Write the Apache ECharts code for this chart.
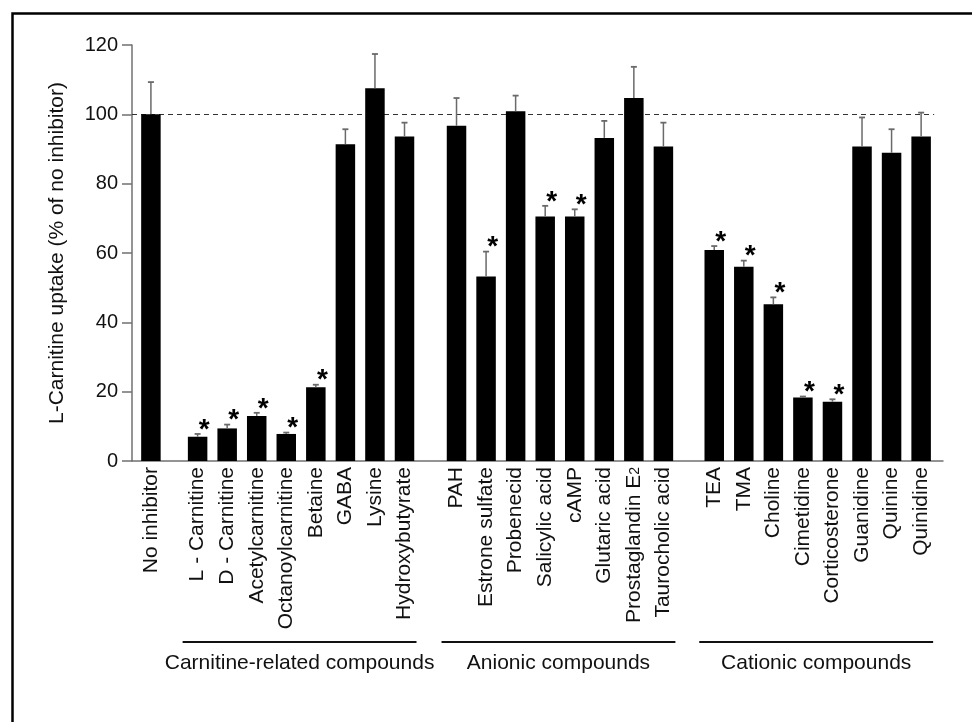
<!DOCTYPE html>
<html>
<head>
<meta charset="utf-8">
<script src="https://cdn.jsdelivr.net/npm/echarts@6/dist/echarts.min.js"></script>
<style>html,body{margin:0;padding:0;background:#fff;}#chart{width:972px;height:722px;}</style>
</head>
<body>
<div id="chart"></div>
<script>
const categories = ['No inhibitor','L - Carnitine','D - Carnitine','Acetylcarnitine','Octanoylcarnitine','Betaine','GABA','Lysine','Hydroxybutyrate','PAH','Estrone sulfate','Probenecid','Salicylic acid','cAMP','Glutaric acid','Prostaglandin E2','Taurocholic acid','TEA','TMA','Choline','Cimetidine','Corticosterone','Guanidine','Quinine','Quinidine'];
const groupOf = [0,1,1,1,1,1,1,1,1,2,2,2,2,2,2,2,2,3,3,3,3,3,3,3,3];
const groupNames = ['', 'Carnitine-related compounds', 'Anionic compounds', 'Cationic compounds'];
const uptake = [100,7.0,9.4,13.0,7.8,21.3,91.4,107.5,93.6,96.7,53.2,100.9,70.5,70.5,93.2,104.7,90.7,60.9,56.0,45.2,18.3,17.1,90.7,88.9,93.6];
const errorSE = [9.3,0.8,1.1,0.9,0.4,0.7,4.3,9.9,4.0,8.0,7.2,4.5,3.1,2.1,4.9,9.0,6.9,1.1,1.8,2.0,0.3,0.7,8.4,6.8,6.9];
const significant = [0,1,1,1,1,1,0,0,0,0,1,0,1,1,0,0,0,1,1,1,1,1,0,0,0];
const yMin = 0, yMax = 120, yStep = 20;
const referenceLevel = 100;

// layout: extra spacing between groups (in bar slots)
const gapExtra = {1: 0.58, 2: 0.76, 3: 0.72};
const pos = [];
let p = 0;
categories.forEach((c, i) => {
  if (i > 0) { p += 1; if (groupOf[i] !== groupOf[i-1]) p += gapExtra[groupOf[i]]; }
  pos.push(+p.toFixed(4));
});
const xMin = -0.64, xMax = 26.8;

const FONT = '"Liberation Sans", Arial, sans-serif';

const barData = categories.map((c, i) => [pos[i], uptake[i]]);
const errData = categories.map((c, i) => [pos[i], uptake[i], uptake[i] + errorSE[i], significant[i]]);
const groupData = [];
for (let g = 1; g < groupNames.length; g++) {
  const idx = groupOf.map((v, i) => v === g ? i : -1).filter(i => i >= 0);
  groupData.push({value: [pos[idx[0]], pos[idx[idx.length-1]]], name: groupNames[g]});
}

function labelFor(v) {
  for (let i = 0; i < pos.length; i++) {
    if (Math.abs(pos[i] - v) < 1e-6) {
      const n = categories[i];
      if (n === 'Prostaglandin E2') return 'Prostaglandin E{sub|2}';
      return n;
    }
  }
  return '';
}

const chart = echarts.init(document.getElementById('chart'), null, {renderer: 'canvas'});
chart.setOption({
  animation: false,
  backgroundColor: '#fff',
  graphic: [{
    type: 'rect', left: 10, top: 11, silent: true,
    shape: {x: 0, y: 0, width: 1000, height: 1000},
    style: {fill: 'none', stroke: '#000', lineWidth: 2.5}
  }],
  grid: {left: 132, right: 29, top: 45, bottom: 261, containLabel: false},
  xAxis: {
    type: 'value', min: xMin, max: xMax,
    splitLine: {show: false},
    axisLine: {show: true, onZero: false, lineStyle: {color: '#707070', width: 1.5}},
    axisTick: {show: false},
    axisLabel: {
      show: true, rotate: 90, margin: 6,
      customValues: pos,
      formatter: labelFor,
      fontFamily: FONT, fontSize: 21, color: '#111',
      rich: {sub: {fontSize: 14, fontFamily: FONT, color: '#111', padding: [0,0,-2,0]}}
    }
  },
  yAxis: {
    type: 'value', min: yMin, max: yMax, interval: yStep,
    name: 'L-Carnitine uptake (% of no inhibitor)',
    nameLocation: 'middle', nameGap: 64,
    nameTextStyle: {fontFamily: FONT, fontSize: 21, color: '#111'},
    splitLine: {show: false},
    axisLine: {show: true, onZero: false, lineStyle: {color: '#707070', width: 1.5}},
    axisTick: {show: true, inside: false, length: 10, lineStyle: {color: '#707070', width: 1.5}},
    axisLabel: {margin: 14, fontFamily: FONT, fontSize: 20, color: '#111'}
  },
  series: [
    {
      type: 'bar', data: barData, barWidth: 19.5, z: 3,
      itemStyle: {color: '#000'},
      markLine: {
        silent: true, symbol: ['none', 'none'], z: 1,
        label: {show: false},
        lineStyle: {color: '#333', width: 1.2, type: [5, 4]},
        data: [[{coord: [xMin, referenceLevel]}, {coord: [26.5, referenceLevel]}]]
      }
    },
    {
      type: 'custom', z: 4, data: errData,
      renderItem: function (params, api) {
        const x = api.value(0), m = api.value(1), t = api.value(2), s = api.value(3);
        const p0 = api.coord([x, m]);
        const p1 = api.coord([x, t]);
        const children = [
          {type: 'line', shape: {x1: p0[0], y1: p0[1], x2: p1[0], y2: p1[1]}, style: {stroke: '#6a6a6a', lineWidth: 1.5}},
          {type: 'line', shape: {x1: p1[0] - 3, y1: p1[1], x2: p1[0] + 3, y2: p1[1]}, style: {stroke: '#6a6a6a', lineWidth: 1.8}}
        ];
        if (s) {
          children.push({
            type: 'text',
            style: {text: '*', x: p1[0] + 6.5, y: p1[1] + 10, align: 'center', verticalAlign: 'bottom',
                    font: 'bold 28px ' + FONT, fill: '#000'}
          });
        }
        return {type: 'group', children: children};
      }
    },
    {
      type: 'custom', z: 4, data: groupData, clip: false,
      renderItem: function (params, api) {
        const a = api.coord([api.value(0), 0])[0] - 15;
        const b = api.coord([api.value(1), 0])[0] + 12;
        const name = groupData[params.dataIndex].name;
        return {type: 'group', children: [
          {type: 'line', shape: {x1: a, y1: 642, x2: b, y2: 642}, style: {stroke: '#111', lineWidth: 2}},
          {type: 'text', style: {text: name, x: (a + b) / 2, y: 663, align: 'center', verticalAlign: 'middle',
                                 font: '21px ' + FONT, fill: '#111'}}
        ]};
      }
    }
  ]
});
</script>
</body>
</html>
